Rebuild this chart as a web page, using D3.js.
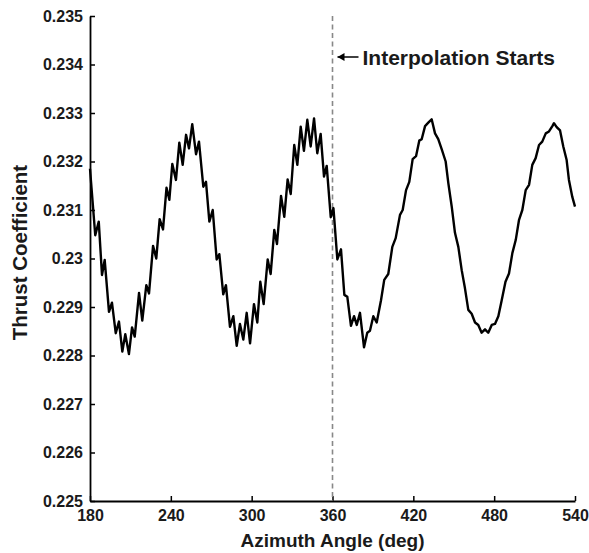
<!DOCTYPE html>
<html><head><meta charset="utf-8">
<script src="https://cdn.jsdelivr.net/npm/d3@7"></script>
<style>body{margin:0;background:#fff;} text{font-family:Arial,"Liberation Sans",sans-serif;font-weight:bold;}</style>
</head><body><svg id="c" width="589" height="553"></svg>
<script>
const azimuth = [180.0,183.9,186.5,188.9,190.9,194.1,196.3,199.1,201.5,204.0,206.2,208.9,211.2,213.2,216.4,218.8,221.8,223.8,226.8,229.2,231.7,234.2,236.8,238.9,241.1,243.8,246.3,248.8,251.3,253.5,255.9,258.7,260.9,264.1,266.1,268.6,271.1,274.0,276.0,278.9,280.9,283.9,286.4,288.9,291.3,293.8,296.3,298.8,301.7,304.2,306.4,308.9,311.9,314.1,316.8,318.8,321.8,324.2,326.7,329.0,331.6,333.9,336.4,338.8,341.3,343.8,346.3,348.7,351.2,353.7,355.7,358.7,360.7,363.6,366.3,368.8,371.0,373.7,376.0,378.0,380.4,383.4,385.8,387.8,390.3,392.8,396.0,398.4,401.4,404.4,406.9,410.1,412.1,414.6,417.0,419.5,422.0,424.4,426.2,428.7,431.1,433.6,436.1,438.5,441.1,444.0,446.0,448.5,450.9,453.4,455.9,458.3,460.8,463.3,465.8,468.2,470.7,473.2,475.6,478.2,480.6,483.1,485.6,488.4,491.0,493.5,496.0,498.4,500.9,503.4,505.9,508.3,510.8,513.3,515.7,518.3,520.7,523.2,524.4,526.4,528.9,531.3,533.8,535.5,538.0,540.0];
const thrust = [0.23185,0.23048,0.23076,0.22966,0.22997,0.22890,0.22909,0.22846,0.22870,0.22808,0.22844,0.22803,0.22858,0.22839,0.22929,0.22872,0.22945,0.22928,0.23026,0.23000,0.23081,0.23060,0.23146,0.23121,0.23195,0.23162,0.23239,0.23193,0.23255,0.23227,0.23277,0.23215,0.23241,0.23148,0.23158,0.23076,0.23100,0.22998,0.23009,0.22926,0.22945,0.22859,0.22881,0.22820,0.22865,0.22833,0.22888,0.22825,0.22906,0.22868,0.22952,0.22906,0.22998,0.22968,0.23059,0.23030,0.23129,0.23086,0.23163,0.23133,0.23234,0.23193,0.23272,0.23222,0.23286,0.23231,0.23289,0.23217,0.23257,0.23169,0.23191,0.23085,0.23104,0.22998,0.23019,0.22925,0.22921,0.22861,0.22881,0.22863,0.22888,0.22817,0.22847,0.22851,0.22881,0.22868,0.22914,0.22956,0.22968,0.23024,0.23042,0.23090,0.23100,0.23141,0.23158,0.23205,0.23211,0.23243,0.23246,0.23273,0.23280,0.23287,0.23258,0.23246,0.23225,0.23200,0.23155,0.23107,0.23053,0.23024,0.22976,0.22939,0.22894,0.22886,0.22868,0.22863,0.22847,0.22854,0.22847,0.22863,0.22865,0.22881,0.22914,0.22952,0.22969,0.23011,0.23038,0.23079,0.23100,0.23141,0.23152,0.23193,0.23207,0.23234,0.23241,0.23258,0.23262,0.23273,0.23279,0.23271,0.23264,0.23231,0.23203,0.23162,0.23127,0.23107];
const xTicks = [180,240,300,360,420,480,540];
const yTicks = [0.225,0.226,0.227,0.228,0.229,0.23,0.231,0.232,0.233,0.234,0.235];
const interpStart = 360;
const annotation = "Interpolation Starts";
const xTitle = "Azimuth Angle (deg)";
const yTitle = "Thrust Coefficient";

const svg = d3.select("#c");
const L=90,R=575,T=16,B=501;
const x = d3.scaleLinear().domain([180,540]).range([L,R]);
const y = d3.scaleLinear().domain([0.225,0.235]).range([B,T]);

const xa = svg.append("g").attr("transform",`translate(0,${B})`)
  .call(d3.axisBottom(x).tickValues(xTicks).tickSizeInner(-5).tickSizeOuter(0).tickPadding(9).tickFormat(d3.format("d")));
const ya = svg.append("g").attr("transform",`translate(${L},0)`)
  .call(d3.axisLeft(y).tickValues(yTicks).tickSizeInner(-5).tickSizeOuter(0).tickPadding(7).tickFormat(d=>String(+d.toFixed(3))));
[xa,ya].forEach(a=>{
  a.selectAll("path").attr("stroke","#000").attr("stroke-width",1.8);
  a.selectAll("line").attr("stroke","#000").attr("stroke-width",1.5);
  a.selectAll("text").attr("font-size",16).attr("fill","#1a1a1a").style("font-family","Arial,'Liberation Sans',sans-serif").style("font-weight","bold");
});

svg.append("line").attr("x1",x(interpStart)).attr("x2",x(interpStart)).attr("y1",T).attr("y2",B)
  .attr("stroke","#888").attr("stroke-width",1.6).attr("stroke-dasharray","5,3.5");

const line = d3.line().x((d,i)=>x(azimuth[i])).y(d=>y(d));
svg.append("path").datum(thrust).attr("d",line).attr("fill","none").attr("stroke","#000").attr("stroke-width",2.4).attr("stroke-linejoin","round");

// annotation arrow
svg.append("line").attr("x1",x(interpStart)+5).attr("x2",x(interpStart)+26).attr("y1",57).attr("y2",57).attr("stroke","#000").attr("stroke-width",1.5);
svg.append("path").attr("d",`M${x(interpStart)+5},57 l7,-4 l0,8 z`).attr("fill","#000");
svg.append("text").attr("x",x(interpStart)+30).attr("y",64.5).attr("font-size",21).attr("fill","#1a1a1a").text(annotation);

svg.append("text").attr("x",(L+R)/2).attr("y",547).attr("text-anchor","middle").attr("font-size",19).attr("fill","#1a1a1a").text(xTitle);
svg.append("text").attr("transform",`translate(27,${(T+B)/2-6}) rotate(-90)`).attr("text-anchor","middle").attr("font-size",20.5).attr("fill","#1a1a1a").text(yTitle);
</script></body></html>
